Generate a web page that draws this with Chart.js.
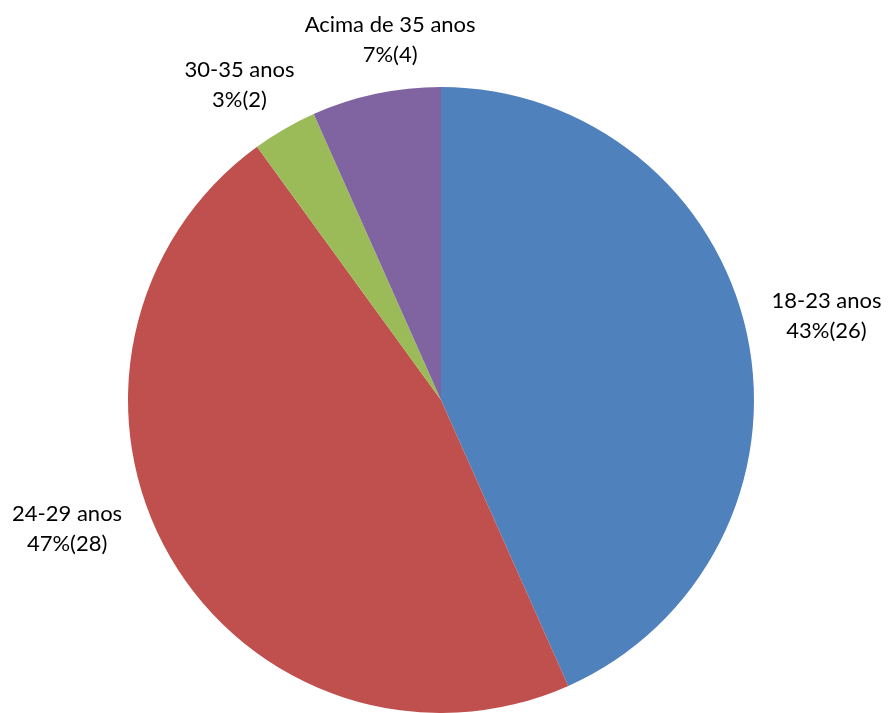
<!DOCTYPE html>
<html>
<head>
<meta charset="utf-8">
<script src="https://cdn.jsdelivr.net/npm/chart.js@4/dist/chart.umd.min.js"></script>
<style>
  html, body { margin: 0; padding: 0; background: #ffffff; }
  #wrap { width: 888px; height: 713px; position: relative; }
</style>
</head>
<body>
<div id="wrap"><canvas id="c" width="888" height="713"></canvas></div>
<script>
// Data
const categories = ["18-23 anos", "24-29 anos", "30-35 anos", "Acima de 35 anos"];
const counts = [26, 28, 2, 4];
const sliceColors = ["#4F81BD", "#C0504D", "#9BBB59", "#8064A2"];

// Label placement tweaks (relative to radial anchor), kept apart from data
const labelNudges = [[5, -3], [-37, -66], [-7, 22], [30, 20]];
const labelGap = 76;
const lineHeight = 30;

const labelPlugin = {
  id: 'outerLabels',
  afterDatasetsDraw(chart) {
    const ctx = chart.ctx;
    const meta = chart.getDatasetMeta(0);
    const total = counts.reduce((a, b) => a + b, 0);
    ctx.save();
    ctx.font = '22px Lato';
    ctx.fillStyle = '#000000';
    ctx.textAlign = 'center';
    ctx.textBaseline = 'middle';
    meta.data.forEach((arc, i) => {
      const p = arc.getProps(['x', 'y', 'startAngle', 'endAngle', 'outerRadius'], true);
      const mid = (p.startAngle + p.endAngle) / 2;
      const R = p.outerRadius + labelGap;
      const cx = p.x + Math.cos(mid) * R + labelNudges[i][0];
      const cy = p.y + Math.sin(mid) * R + labelNudges[i][1];
      const pct = Math.round(counts[i] / total * 100);
      ctx.fillText(categories[i], cx, cy - lineHeight / 2);
      ctx.fillText(pct + '%(' + counts[i] + ')', cx, cy + lineHeight / 2);
    });
    ctx.restore();
  }
};

new Chart(document.getElementById('c'), {
  type: 'pie',
  data: {
    labels: categories,
    datasets: [{
      data: counts,
      backgroundColor: sliceColors,
      borderWidth: 0
    }]
  },
  options: {
    responsive: false,
    animation: false,
    layout: { padding: { top: 87, bottom: 0, left: 0, right: 6 } },
    plugins: {
      legend: { display: false },
      tooltip: { enabled: false }
    }
  },
  plugins: [labelPlugin]
});
</script>
</body>
</html>
